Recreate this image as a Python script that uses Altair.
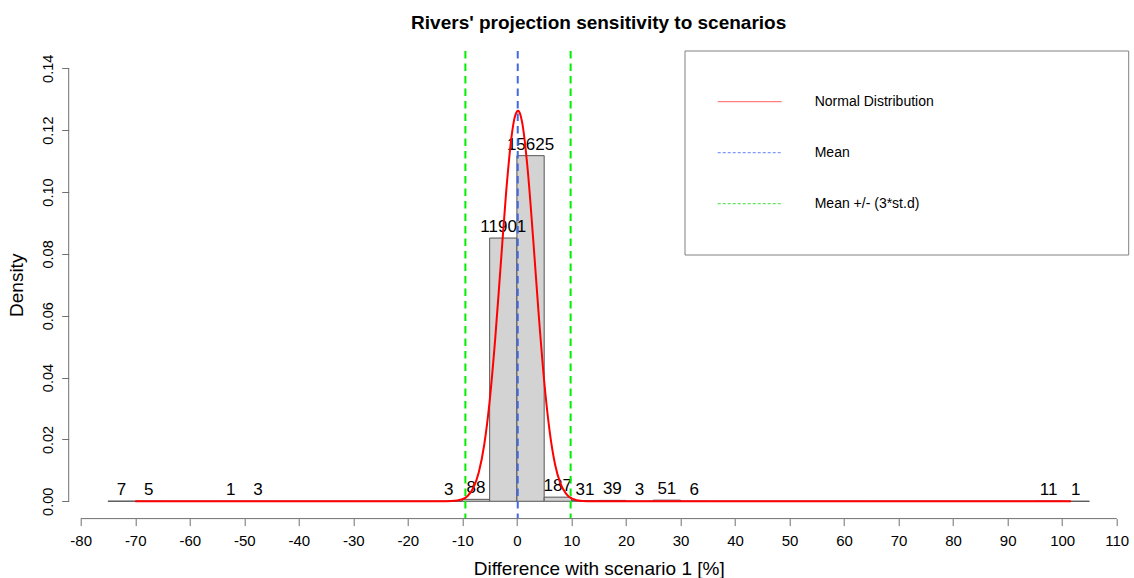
import altair as alt
import pandas as pd

TITLE = "Rivers' projection sensitivity to scenarios"
X_TITLE = "Difference with scenario 1 [%]"
Y_TITLE = "Density"

# Histogram bins (width 5) and counts
BIN_START = [-75, -70, -65, -60, -55, -50, -45, -40, -35, -30, -25, -20,
             -15, -10, -5, 0, 5, 10, 15, 20, 25, 30, 35, 40,
             45, 50, 55, 60, 65, 70, 75, 80, 85, 90, 95, 100]
BIN_END = [-70, -65, -60, -55, -50, -45, -40, -35, -30, -25, -20, -15,
           -10, -5, 0, 5, 10, 15, 20, 25, 30, 35, 40, 45,
           50, 55, 60, 65, 70, 75, 80, 85, 90, 95, 100, 105]
COUNTS = [7, 5, 0, 0, 1, 3, 0, 0, 0, 0, 0, 0,
          3, 88, 11901, 15625, 187, 31, 39, 3, 51, 6, 0, 0,
          0, 0, 0, 0, 0, 0, 0, 0, 0, 0, 11, 1]

# Normal distribution curve
CURVE_X = [-70, -14, -12, -10, -9, -8, -7, -6, -5, -4, -3, -2, -1, -0.5, 0,
           0.2, 0.5, 1, 2, 3, 4, 5, 6, 7, 8, 9, 10, 12, 14, 101.6]
CURVE_Y = [0.0, 0.000005, 0.00007, 0.00067, 0.0018, 0.0043, 0.0093, 0.0182,
           0.0324, 0.0521, 0.0757, 0.0994, 0.1177, 0.1234, 0.1260, 0.1263,
           0.1257, 0.1221, 0.1068, 0.0844, 0.0603, 0.0389, 0.0227, 0.0119,
           0.0057, 0.0025, 0.00096, 0.0001, 0.00001, 0.0]

MEAN_X = [0.15]
SD_X = [-9.45, 9.85]

LINE_NAMES = ["Normal Distribution", "Mean", "Mean +/- (3*st.d)"]
LEGEND_COLORS = ["#ff7f7f", "#8199ff", "#5fe85f"]
LEGEND_DASHES = [[1, 0], [3, 2], [3, 2]]
CURVE_COLOR = "#ff0000"
MEAN_COLOR = "#4169e1"
SD_COLOR = "#00ee00"

X_TICKS = [-80, -70, -60, -50, -40, -30, -20, -10, 0, 10, 20, 30, 40, 50,
           60, 70, 80, 90, 100, 110]
Y_TICKS = [0.0, 0.02, 0.04, 0.06, 0.08, 0.10, 0.12, 0.14]
X_DOMAIN = [-82.2, 112.2]
Y_DOMAIN = [-0.0056, 0.1456]

FONT = "Liberation Sans"
AXIS_COLOR = "#707070"
W, H = 1060, 467.6

bins = pd.DataFrame({"bin_start": BIN_START, "bin_end": BIN_END, "count": COUNTS})
curve = pd.DataFrame({"x": CURVE_X, "density": CURVE_Y})
mean_df = pd.DataFrame({"x": MEAN_X})
sd_df = pd.DataFrame({"x": SD_X})
legend_df = pd.DataFrame({"name": LINE_NAMES, "x": [0, 0, 0], "density": [0, 0, 0]})
one = pd.DataFrame({"k": [0]})

x_scale = alt.Scale(domain=X_DOMAIN, nice=False, zero=False)
y_scale = alt.Scale(domain=Y_DOMAIN, nice=False, zero=False)

x_axis = alt.Axis(
    values=X_TICKS, labelExpr="toString(datum.value)", title=X_TITLE,
    domain=False, grid=False, tickSize=7, tickColor=AXIS_COLOR,
    labelFont=FONT, labelFontSize=15, labelColor="black", labelPadding=8.2,
    labelBaseline="top", labelFlush=False, labelOverlap=False,
    titleFont=FONT, titleFontSize=19, titleFontWeight="normal",
    titleColor="black", titleX=W / 2, titleY=55.4, titleAlign="center",
    titleBaseline="alphabetic",
)
y_axis = alt.Axis(
    values=Y_TICKS, format=".2f", title=Y_TITLE,
    domain=False, grid=False, tickSize=7, tickColor=AXIS_COLOR,
    labelFont=FONT, labelFontSize=14.5, labelColor="black", labelPadding=9.4,
    labelAngle=270, labelAlign="center", labelBaseline="alphabetic",
    labelFlush=False, labelOverlap=False,
    titleFont=FONT, titleFontSize=19, titleFontWeight="normal",
    titleColor="black", titleAngle=270, titleX=-46, titleY=H / 2,
    titleAlign="center", titleBaseline="alphabetic",
)


def make_legend():
    return alt.Legend(
        title=None, orient="none", legendX=648, legendY=42.7,
        symbolType="stroke", symbolSize=4096, symbolStrokeWidth=1.3,
        labelFont=FONT, labelFontSize=14, labelColor="black", labelOffset=32,
        rowPadding=35, clipHeight=16, padding=0, labelLimit=400,
    )


def xq(field):
    return alt.X(field, type="quantitative", scale=x_scale, axis=x_axis)


def yq(field):
    return alt.Y(field, type="quantitative", scale=y_scale, axis=y_axis)


base_bins = alt.Chart(bins).transform_joinaggregate(
    total="sum(count)"
).transform_calculate(
    density="datum.count / (datum.total * (datum.bin_end - datum.bin_start))",
    center="(datum.bin_start + datum.bin_end) / 2",
)

bars = base_bins.mark_rect(fill="#d3d3d3", stroke="#555555", strokeWidth=1).encode(
    x=xq("bin_start"),
    x2="bin_end:Q",
    y=yq("density"),
    y2=alt.Y2Datum(0),
)

labels = base_bins.transform_filter("datum.count > 0").mark_text(
    dy=-6, baseline="alphabetic", align="center", font=FONT, fontSize=17, color="black"
).encode(
    x=xq("center"),
    y=yq("density"),
    text=alt.Text("count:N"),
)

curve_line = alt.Chart(curve).mark_line(
    color=CURVE_COLOR, strokeWidth=2, interpolate="monotone"
).encode(x=xq("x"), y=yq("density"))

mean_rule = alt.Chart(mean_df).mark_rule(
    color=MEAN_COLOR, strokeWidth=2, strokeDash=[7.5, 5]
).encode(x=xq("x"))

sd_rules = alt.Chart(sd_df).mark_rule(
    color=SD_COLOR, strokeWidth=2, strokeDash=[7.5, 5]
).encode(x=xq("x"))

legend_box = alt.Chart(one).mark_rect(fill="white", stroke="#808080", strokeWidth=1).encode(
    x=alt.value(616.3), x2=alt.value(W), y=alt.value(0), y2=alt.value(204)
)

# legend-only layer: no visible marks, provides the legend entries
legend_layer = alt.Chart(legend_df).transform_filter("false").mark_line().encode(
    x=xq("x"),
    y=yq("density"),
    color=alt.Color("name:N", scale=alt.Scale(domain=LINE_NAMES, range=LEGEND_COLORS),
                    legend=make_legend()),
    strokeDash=alt.StrokeDash("name:N",
                              scale=alt.Scale(domain=LINE_NAMES, range=LEGEND_DASHES),
                              legend=make_legend()),
)

x_line = alt.Chart(one).mark_rule(color=AXIS_COLOR, strokeWidth=1).encode(
    x=alt.XDatum(X_TICKS[0], type="quantitative", scale=x_scale, axis=x_axis),
    x2=alt.X2Datum(X_TICKS[-1]),
    y=alt.value(H),
)
y_line = alt.Chart(one).mark_rule(color=AXIS_COLOR, strokeWidth=1).encode(
    y=alt.YDatum(Y_TICKS[0], type="quantitative", scale=y_scale, axis=y_axis),
    y2=alt.Y2Datum(Y_TICKS[-1]),
    x=alt.value(0),
)

chart = alt.layer(
    legend_box, bars, labels, curve_line, mean_rule, sd_rules, legend_layer,
    x_line, y_line
).properties(
    width=W, height=H,
    background="white",
    title=alt.TitleParams(TITLE, font=FONT, fontSize=19, fontWeight="bold",
                          color="black", anchor="middle", frame="group",
                          baseline="alphabetic", offset=2),
    padding={"left": 68.7, "top": 51, "right": 5.3, "bottom": 59.4},
    autosize=alt.AutoSizeParams(type="none"),
).configure_view(stroke=None)

chart.save("out.html", embed_options={"renderer": "svg", "actions": False})
